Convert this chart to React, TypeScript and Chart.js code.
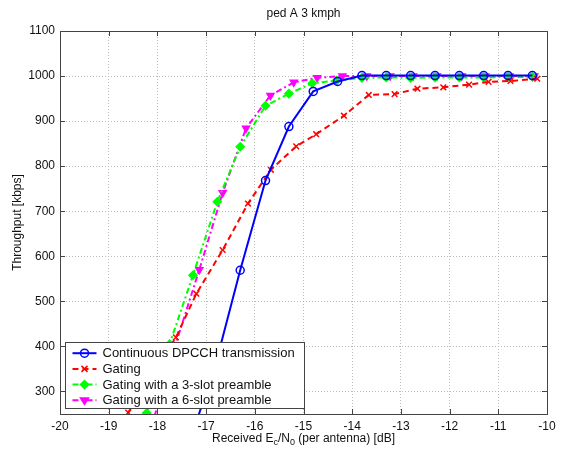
import React, { useEffect, useRef } from 'react';
import { Chart, registerables } from 'chart.js';

Chart.register(...registerables);

// ---------- data ----------
const chartTitle = 'ped A 3 kmph';
const yAxisTitle = 'Throughput [kbps]';
const xTicks = [-20, -19, -18, -17, -16, -15, -14, -13, -12, -11, -10];
const yTicks = [300, 400, 500, 600, 700, 800, 900, 1000, 1100];

const seriesLabels = [
  'Continuous DPCCH transmission',
  'Gating',
  'Gating with a 3-slot preamble',
  'Gating with a 6-slot preamble',
];

const continuousX = [-17.3, -16.8, -16.3, -15.78, -15.3, -14.8, -14.3, -13.8, -13.3, -12.8, -12.3, -11.8, -11.3, -10.8, -10.3];
const continuousY = [200, 362, 569, 768, 888, 966, 988, 1001, 1001, 1001, 1001, 1001, 1001, 1001, 1001];

const gatingX = [-18.6, -18.15, -17.62, -17.2, -16.66, -16.14, -15.67, -15.15, -14.74, -14.17, -13.66, -13.13, -12.66, -12.13, -11.6, -11.2, -10.75, -10.2];
const gatingY = [253, 330, 420, 517, 614, 717, 792, 844, 871, 912, 958, 960, 972, 975, 981, 987, 989, 994];

const preamble3X = [-18.22, -17.75, -17.27, -16.77, -16.3, -15.78, -15.3, -14.82, -14.32, -13.8, -13.3, -12.8, -12.3, -11.8, -11.3, -10.8, -10.3];
const preamble3Y = [252, 405, 558, 721, 843, 934, 961, 984, 990, 996, 997, 996, 997, 997, 997, 998, 998];

const preamble6X = [-18.14, -17.64, -17.14, -16.66, -16.18, -15.68, -15.2, -14.72, -14.2, -13.7, -13.22, -12.75, -12.26, -11.75, -11.27, -10.77, -10.26];
const preamble6Y = [215, 400, 570, 741, 884, 957, 986, 996, 1000, 1000, 1000, 1000, 1000, 1000, 1000, 1000, 1000];

const FONT = "'Liberation Sans', Arial, Helvetica, sans-serif";

function toPoints(xs: number[], ys: number[]) {
  return xs.map((x, i) => ({ x, y: ys[i] }));
}

function drawMarker(ctx: CanvasRenderingContext2D, style: string, x: number, y: number, r: number, color: string, fill: string) {
  ctx.save();
  ctx.setLineDash([]);
  ctx.strokeStyle = color;
  ctx.fillStyle = fill;
  ctx.lineWidth = 1.5;
  ctx.beginPath();
  if (style === 'circle') {
    ctx.arc(x, y, r, 0, Math.PI * 2);
    ctx.fill();
    ctx.stroke();
  } else if (style === 'crossRot') {
    ctx.moveTo(x - r * 0.75, y - r * 0.75);
    ctx.lineTo(x + r * 0.75, y + r * 0.75);
    ctx.moveTo(x + r * 0.75, y - r * 0.75);
    ctx.lineTo(x - r * 0.75, y + r * 0.75);
    ctx.stroke();
  } else if (style === 'rectRot') {
    ctx.moveTo(x, y - r);
    ctx.lineTo(x + r, y);
    ctx.lineTo(x, y + r);
    ctx.lineTo(x - r, y);
    ctx.closePath();
    ctx.fill();
    ctx.stroke();
  } else if (style === 'triangleDown') {
    ctx.moveTo(x - r, y - r * 0.6);
    ctx.lineTo(x + r, y - r * 0.6);
    ctx.lineTo(x, y + r);
    ctx.closePath();
    ctx.fill();
    ctx.stroke();
  }
  ctx.restore();
}

const legendMarkers = ['circle', 'crossRot', 'rectRot', 'triangleDown'];

const framePlugin = {
  id: 'matlabFrame',
  afterDatasetsDraw(chart: any) {
    const { ctx, chartArea: ca, scales } = chart;
    ctx.save();
    ctx.strokeStyle = '#444';
    ctx.lineWidth = 1;
    ctx.setLineDash([]);
    ctx.strokeRect(Math.round(ca.left) + 0.5, Math.round(ca.top) + 0.5, Math.round(ca.right - ca.left), Math.round(ca.bottom - ca.top));
    const tl = 5;
    ctx.beginPath();
    xTicks.forEach((v) => {
      const px = Math.round(scales.x.getPixelForValue(v)) + 0.5;
      ctx.moveTo(px, ca.bottom);
      ctx.lineTo(px, ca.bottom - tl);
      ctx.moveTo(px, ca.top);
      ctx.lineTo(px, ca.top + tl);
    });
    yTicks.forEach((v) => {
      const py = Math.round(scales.y.getPixelForValue(v)) + 0.5;
      ctx.moveTo(ca.left, py);
      ctx.lineTo(ca.left + tl, py);
      ctx.moveTo(ca.right, py);
      ctx.lineTo(ca.right - tl, py);
    });
    ctx.stroke();

    // legend
    const rowH = 15.7;
    ctx.font = `13px ${FONT}`;
    let maxW = 0;
    seriesLabels.forEach((l) => { maxW = Math.max(maxW, ctx.measureText(l).width); });
    const bx = Math.round(ca.left + 5) + 0.5;
    const bh = 66;
    const by = Math.round(ca.bottom - 6 - bh) + 0.5;
    const textOff = 37;
    const bw = Math.round(textOff + maxW + 10);
    ctx.fillStyle = '#ffffff';
    ctx.fillRect(bx, by, bw, bh);
    ctx.strokeStyle = '#444';
    ctx.lineWidth = 1;
    ctx.strokeRect(bx, by, bw, bh);
    chart.data.datasets.forEach((ds: any, i: number) => {
      const cy = by + 10.7 + i * rowH;
      ctx.save();
      ctx.strokeStyle = ds.borderColor;
      ctx.lineWidth = ds.borderWidth;
      ctx.setLineDash(ds.borderDash || []);
      ctx.beginPath();
      ctx.moveTo(bx + 7, cy);
      ctx.lineTo(bx + 31, cy);
      ctx.stroke();
      ctx.restore();
      drawMarker(ctx, legendMarkers[i], bx + 19, cy, 4, ds.borderColor, ds.pointBackgroundColor);
      ctx.fillStyle = '#111';
      ctx.textAlign = 'left';
      ctx.textBaseline = 'middle';
      ctx.fillText(ds.label, bx + textOff, cy + 0.5);
    });
    ctx.restore();
  },
  afterDraw(chart: any) {
    const { ctx, chartArea: ca } = chart;
    ctx.save();
    ctx.fillStyle = '#111';
    ctx.font = `12px ${FONT}`;
    ctx.textAlign = 'center';
    ctx.textBaseline = 'middle';
    ctx.fillText(chartTitle, (ca.left + ca.right) / 2, 14);

    // y title
    ctx.save();
    ctx.translate(18, (ca.top + ca.bottom) / 2);
    ctx.rotate(-Math.PI / 2);
    ctx.fillText(yAxisTitle, 0, 0);
    ctx.restore();

    // x title with subscripts
    const parts: [string, boolean][] = [
      ['Received E', false],
      ['c', true],
      ['/N', false],
      ['0', true],
      [' (per antenna) [dB]', false],
    ];
    const normal = `12px ${FONT}`;
    const sub = `9px ${FONT}`;
    let total = 0;
    parts.forEach(([t, s]) => {
      ctx.font = s ? sub : normal;
      total += ctx.measureText(t).width;
    });
    let x = (ca.left + ca.right) / 2 - total / 2;
    const y = 439;
    ctx.textAlign = 'left';
    ctx.textBaseline = 'middle';
    parts.forEach(([t, s]) => {
      ctx.font = s ? sub : normal;
      ctx.fillText(t, x, s ? y + 4 : y);
      x += ctx.measureText(t).width;
    });
    ctx.restore();
  },
};

export default function App() {
  const ref = useRef<HTMLCanvasElement | null>(null);
  useEffect(() => {
    if (!ref.current) return;
    const lineDefaults = { showLine: true, borderWidth: 2, pointRadius: 4, pointBorderWidth: 1.5, tension: 0 };
    const chart = new Chart(ref.current, {
      type: 'scatter',
      data: {
        datasets: [
          {
            ...lineDefaults,
            label: seriesLabels[0],
            data: toPoints(continuousX, continuousY),
            borderColor: '#0000ff',
            backgroundColor: '#0000ff',
            pointBackgroundColor: 'rgba(255,255,255,0)',
            pointBorderColor: '#0000ff',
            pointStyle: 'circle',
          },
          {
            ...lineDefaults,
            label: seriesLabels[1],
            data: toPoints(gatingX, gatingY),
            borderColor: '#ff0000',
            backgroundColor: '#ff0000',
            pointBackgroundColor: '#ff0000',
            pointBorderColor: '#ff0000',
            pointStyle: 'crossRot',
            borderDash: [6, 4],
          },
          {
            ...lineDefaults,
            label: seriesLabels[2],
            data: toPoints(preamble3X, preamble3Y),
            borderColor: '#00ff00',
            backgroundColor: '#00ff00',
            pointBackgroundColor: '#00ff00',
            pointBorderColor: '#00ff00',
            pointStyle: 'rectRot',
            borderDash: [6, 3, 2, 3],
          },
          {
            ...lineDefaults,
            label: seriesLabels[3],
            data: toPoints(preamble6X, preamble6Y),
            borderColor: '#ff00ff',
            backgroundColor: '#ff00ff',
            pointBackgroundColor: '#ff00ff',
            pointBorderColor: '#ff00ff',
            pointStyle: 'triangle',
            pointRotation: 180,
            borderDash: [6, 3, 2, 3],
          },
        ],
      },
      options: {
        responsive: false,
        animation: false,
        layout: { padding: { top: 31, right: 14, left: 0, bottom: 0 } },
        plugins: { legend: { display: false }, title: { display: false }, tooltip: { enabled: false } },
        scales: {
          x: {
            type: 'linear',
            min: -20,
            max: -10,
            afterBuildTicks: (scale: any) => { scale.ticks = xTicks.map((v) => ({ value: v })); },
            afterFit: (scale: any) => { scale.height = 38; },
            grid: { color: '#bdbdbd', lineWidth: 1, drawTicks: false },
            border: { display: false, dash: [1, 2] },
            ticks: { color: '#111', font: { family: FONT, size: 12 }, padding: 5, maxRotation: 0, autoSkip: false, callback: (v: any) => String(v) },
          },
          y: {
            type: 'linear',
            min: 250,
            max: 1100,
            afterBuildTicks: (scale: any) => { scale.ticks = yTicks.map((v) => ({ value: v })); },
            afterFit: (scale: any) => { scale.width = 60; },
            grid: { color: '#bdbdbd', lineWidth: 1, drawTicks: false },
            border: { display: false, dash: [1, 2] },
            ticks: { color: '#111', font: { family: FONT, size: 12 }, padding: 5, autoSkip: false, callback: (v: any) => String(v) },
          },
        },
      },
      plugins: [framePlugin],
    } as any);
    return () => chart.destroy();
  }, []);
  return (
    <div style={{ position: 'absolute', left: 0, top: 0, width: 561, height: 452, background: '#fff' }}>
      <canvas ref={ref} width={561} height={452} />
    </div>
  );
}
